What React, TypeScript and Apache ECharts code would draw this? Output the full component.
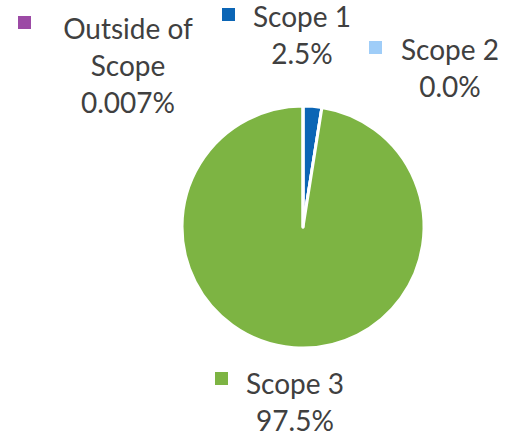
import React, { useEffect, useRef } from "react";
import * as echarts from "echarts";

const categories = ["Scope 1", "Scope 2", "Scope 3", "Outside of Scope"];
const displayNames = ["Scope 1", "Scope 2", "Scope 3", "Outside of\nScope"];
const values = [2.5, 0.0, 97.5, 0.007];
const decimals = [1, 1, 1, 3];
const colors = ["#0B65B5", "#9FCDF8", "#7DB443", "#9C4AA5"];

// label block centres (px)
const labelPos = [
  { x: 302, y: 34 },
  { x: 450, y: 67 },
  { x: 295, y: 401 },
  { x: 128, y: 65 },
];
// legend-key square top-left positions (px)
const keyPos = [
  { left: 222, top: 8 },
  { left: 369, top: 41 },
  { left: 215, top: 372 },
  { left: 18, top: 16 },
];

export default function App() {
  const ref = useRef<HTMLDivElement>(null);
  useEffect(() => {
    if (!ref.current) return;
    const chart = echarts.init(ref.current, null, { renderer: "svg" });
    chart.setOption({
      animation: false,
      legend: categories.map((name, i) => ({
        data: [{ name, icon: "rect" }],
        left: keyPos[i].left,
        top: keyPos[i].top,
        padding: 0,
        itemWidth: 13,
        itemHeight: 13,
        itemGap: 0,
        selectedMode: false,
        itemStyle: { borderWidth: 0 },
        formatter: () => "",
        textStyle: { fontSize: 1, padding: 0 },
      })),
      series: [
        {
          type: "pie",
          center: [303, 227],
          radius: [0, 121],
          startAngle: 90,
          clockwise: true,
          avoidLabelOverlap: false,
          stillShowZeroSum: true,
          itemStyle: { borderColor: "#ffffff", borderWidth: 3 },
          labelLine: { show: false },
          label: {
            show: true,
            position: "outside",
            align: "center",
            fontFamily: "Lato",
            fontSize: 28,
            color: "#404040",
            lineHeight: 37,
            formatter: (p: any) => {
              const i = p.dataIndex;
              return `${displayNames[i]}\n${values[i].toFixed(decimals[i])}%`;
            },
          },
          labelLayout: (params: any) => {
            const lp = labelPos[params.dataIndex];
            return { x: lp.x, y: lp.y, align: "center", verticalAlign: "middle" };
          },
          data: categories.map((name, i) => ({
            name,
            value: values[i],
            itemStyle: { color: colors[i] },
          })),
        },
      ],
    });
    return () => chart.dispose();
  }, []);
  return (
    <div
      ref={ref}
      style={{ position: "absolute", left: 0, top: 0, width: 510, height: 441, background: "#fff" }}
    />
  );
}
